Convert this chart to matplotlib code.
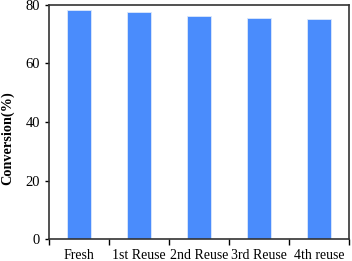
import matplotlib.pyplot as plt
import numpy as np

categories = ["Fresh", "1st Reuse", "2nd Reuse", "3rd Reuse", "4th reuse"]
conversion = [78.3, 77.7, 76.2, 75.7, 75.1]

plt.rcParams['font.family'] = ['Liberation Serif', 'DejaVu Serif']

fig = plt.figure(figsize=(3.52, 2.61), dpi=100)
ax = fig.add_axes([0.139, 0.084, 0.852, 0.897])

x = np.arange(len(categories))
ax.bar(x, conversion, width=0.4, color='#4a8cfc', edgecolor='#dce8fb', linewidth=0.6)

ax.set_xlim(-0.5, len(categories) - 0.5)
ax.set_ylim(0, 80)
ax.set_yticks([0, 20, 40, 60, 80])
ax.set_xticks(np.arange(-0.5, len(categories), 1.0))
ax.set_xticklabels([])
ax.set_xticks(x, minor=True)
ax.set_xticklabels(categories, minor=True)
ax.tick_params(axis='x', which='minor', length=0, pad=7, labelsize=10)
ax.tick_params(axis='x', which='major', direction='out', length=4, width=1)
ax.tick_params(axis='y', direction='out', length=3, width=1, labelsize=10.5)
ax.set_ylabel("Conversion(%)", fontweight='bold', fontsize=10.3, labelpad=8)
ax.yaxis.label.set_y(0.432)

for s in ax.spines.values():
    s.set_color('#333333')
    s.set_linewidth(1.2)

fig.savefig("out.png", dpi=100)
